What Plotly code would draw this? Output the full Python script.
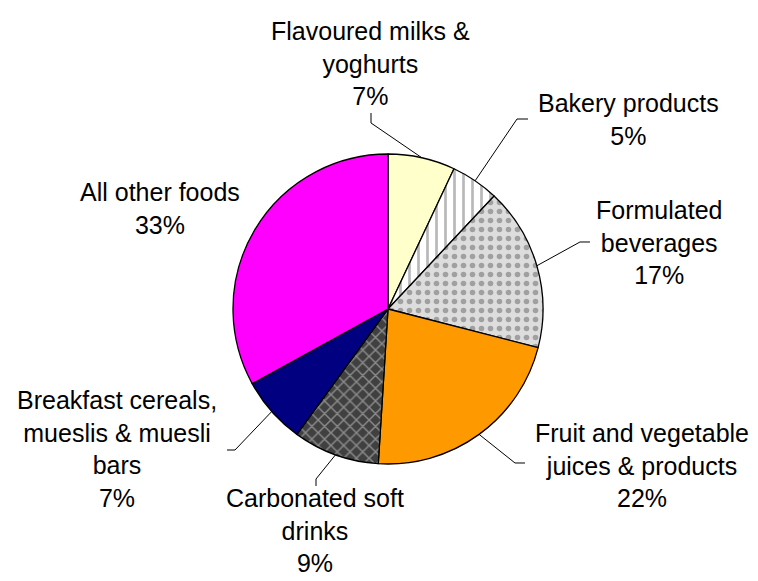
import math
import plotly.graph_objects as go

# Share of intake by food group (percent), clockwise from 12 o'clock
categories = [
    "Flavoured milks &<br>yoghurts",
    "Bakery products",
    "Formulated<br>beverages",
    "Fruit and vegetable<br>juices & products",
    "Carbonated soft<br>drinks",
    "Breakfast cereals,<br>mueslis & muesli<br>bars",
    "All other foods",
]
values = [7, 5, 17, 22, 9, 7, 33]

fill_colors = ["#FFFFCC", "#FFFFFF", "#DDDDDD", "#FF9900", "#404040", "#000080", "#FF00FF"]
pattern_shapes = ["", "|", ".", "", "x", "", ""]
pattern_fg = ["#FFFFCC", "#B8B8B8", "#A0A0A0", "#FF9900", "#8A8A8A", "#000080", "#FF00FF"]

W, H = 758, 581
CX, CY, R = 388, 309, 155  # pie centre and radius in pixels

# Label block centres and leader-line bends (pixels); None = no leader
label_pos = [(370, 63), (628, 119), (659, 243), (642, 465), (315, 530), (117, 449), (160, 208)]
leader_bends = [
    [(371, 123), (371, 113)],
    [(517, 119), (528, 119)],
    [(580, 242), (590, 242)],
    [(515, 463), (525, 463)],
    [(316, 479), (316, 486)],
    [(235, 450), (227, 450)],
    None,
]


def px(x, y):
    return x / W, 1 - y / H


fig = go.Figure(
    go.Pie(
        labels=categories,
        values=values,
        sort=False,
        direction="clockwise",
        rotation=0,
        textinfo="none",
        showlegend=False,
        marker=dict(
            colors=fill_colors,
            line=dict(color="black", width=1.3),
            pattern=dict(
                shape=pattern_shapes,
                fgcolor=pattern_fg,
                bgcolor=fill_colors,
                size=9,
                solidity=0.3,
            ),
        ),
        domain=dict(x=[(CX - R) / W, (CX + R) / W], y=[1 - (CY + R) / H, 1 - (CY - R) / H]),
    )
)

total = sum(values)
cum = 0
annotations = []
shapes = []
for name, v, pos, bends in zip(categories, values, label_pos, leader_bends):
    mid = (cum + v / 2) / total * 2 * math.pi
    cum += v
    pct = round(v / total * 100)
    lx, ly = px(*pos)
    annotations.append(
        dict(
            x=lx, y=ly, xref="paper", yref="paper",
            text=f"{name}<br>{pct}%",
            showarrow=False, xanchor="center", yanchor="middle",
            font=dict(family="Liberation Sans, Arial, sans-serif", size=25, color="black"),
        )
    )
    if bends:
        ex, ey = CX + R * math.sin(mid), CY - R * math.cos(mid)
        pts = [px(ex, ey)] + [px(*b) for b in bends]
        path = "M " + " L ".join(f"{a:.5f},{b:.5f}" for a, b in pts)
        shapes.append(dict(type="path", path=path, xref="paper", yref="paper",
                           line=dict(color="black", width=1)))

fig.update_layout(
    width=W, height=H,
    margin=dict(l=0, r=0, t=0, b=0),
    paper_bgcolor="white",
    annotations=annotations,
    shapes=shapes,
)

fig.write_html("out.html")
